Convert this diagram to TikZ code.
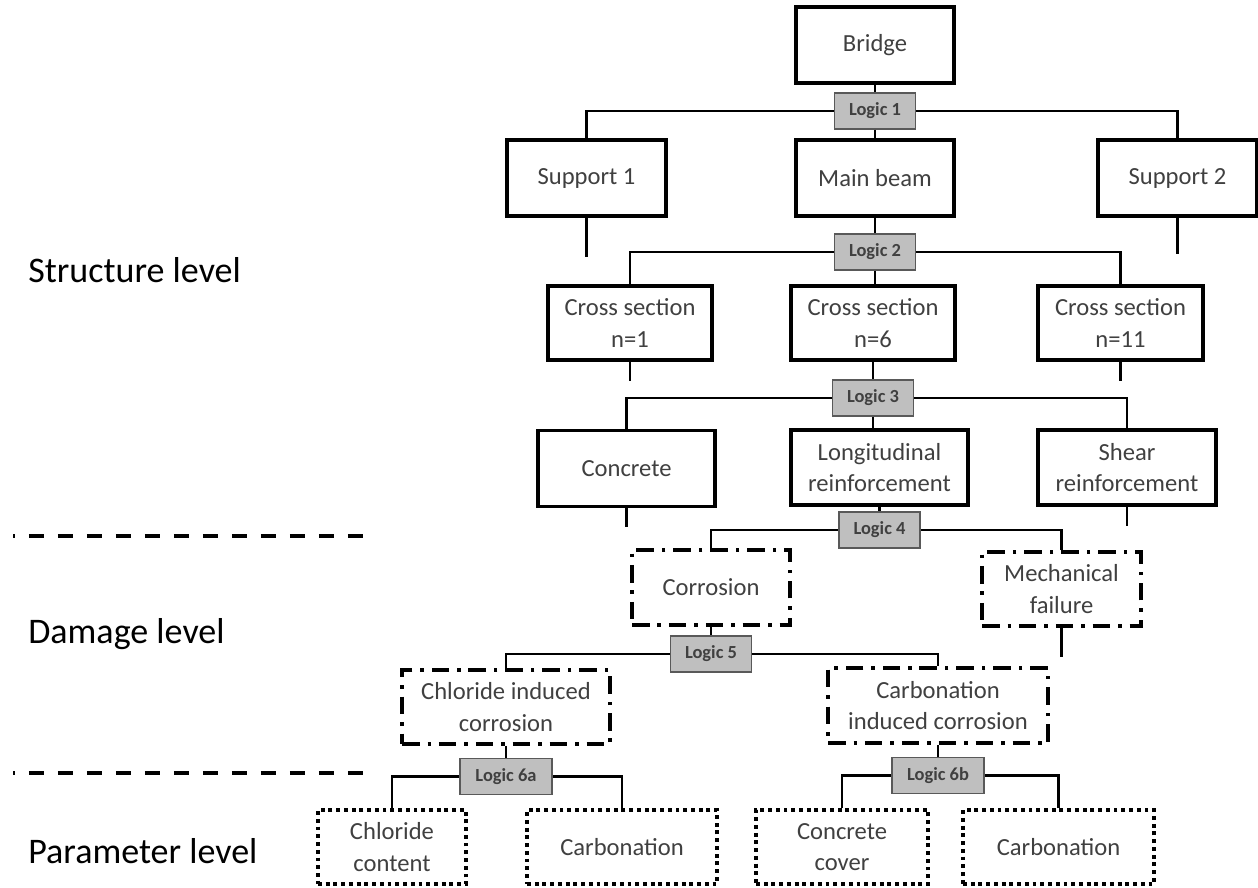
\documentclass[tikz,border=0pt]{standalone}
\usepackage{fontspec}
\setmainfont{Carlito}
\usepackage{tikz}
\definecolor{boxtext}{HTML}{404040}
\definecolor{logicgray}{HTML}{BFBFBF}

\begin{document}
\begin{tikzpicture}[x=0.02cm, y=-0.02cm, line width=1.5pt,
    wh/.style 2 args={minimum width=#1*0.2mm, minimum height=#2*0.2mm},
    box/.style={rectangle, draw, line width=2.1pt, fill=white, text=boxtext, align=center, inner sep=0pt, font=\fontsize{14}{18}\selectfont},
    dmgbox/.style={box, dash pattern=on 10pt off 4.5pt on 2pt off 4.5pt},
    parbox/.style={box, dash pattern=on 2.2pt off 2.2pt},
    logic/.style={rectangle, draw=black!65, line width=0.6pt, fill=logicgray, text=boxtext, inner sep=0pt, minimum width=16.2mm, minimum height=7.2mm, font=\fontsize{10.5}{12}\selectfont\bfseries},
    level/.style={anchor=west, inner sep=0pt, font=\fontsize{20.5}{24}\selectfont},
    sep/.style={line width=2.2pt, dash pattern=on 8.5pt off 8pt, dash phase=7.4pt}]

    \useasboundingbox (0,0) rectangle (1258,887);

    % structure level
    \node[box, wh={158}{76}] (bridge) at (875,45) {Bridge};
    \node[logic] (logic1) at (875,111) {Logic 1};
    \node[box, wh={159}{76}] (support1) at (586.5,178) {Support 1};
    \node[box, wh={158}{76}] (mainbeam) at (875,178) {Main beam};
    \node[box, wh={159}{76}] (support2) at (1177.5,178) {Support 2};
    \node[logic] (logic2) at (875,252) {Logic 2};
    \node[box, wh={164}{74}] (cs1) at (630,323) {Cross section\\n=1};
    \node[box, wh={164}{74}] (cs6) at (873,323) {Cross section\\n=6};
    \node[box, wh={165}{74}] (cs11) at (1120.5,323) {Cross section\\n=11};
    \node[logic] (logic3) at (873,398) {Logic 3};
    \node[box, wh={177}{76}] (concrete) at (626.5,468.5) {Concrete};
    \node[box, wh={177}{75}] (longreinf) at (879.5,467.5) {Longitudinal\\reinforcement};
    \node[box, wh={178}{75}] (shearreinf) at (1127,467.5) {Shear\\reinforcement};

    % damage level
    \node[logic] (logic4) at (879.5,530) {Logic 4};
    \node[dmgbox, wh={158}{75}] (corrosion) at (711,587.5) {Corrosion};
    \node[dmgbox, wh={159}{74}] (mechfail) at (1061.5,589) {Mechanical\\failure};
    \node[logic] (logic5) at (711,654) {Logic 5};
    \node[dmgbox, wh={208}{74}] (chlcorr) at (506,707) {Chloride induced\\corrosion};
    \node[dmgbox, wh={220}{75}] (carbcorr) at (938,705.5) {Carbonation\\induced corrosion};

    % parameter level
    \node[logic, minimum width=18.4mm] (logic6a) at (506,776.5) {Logic 6a};
    \node[logic, minimum width=18.4mm] (logic6b) at (938,775.5) {Logic 6b};
    \node[parbox, wh={148}{74}] (chlcont) at (392,847) {Chloride\\content};
    \node[parbox, wh={190}{74}] (carb1) at (622,847) {Carbonation};
    \node[parbox, wh={172}{74}] (cover) at (842,847) {Concrete\\cover};
    \node[parbox, wh={191}{74}] (carb2) at (1058.5,847) {Carbonation};

    % connectors
    \draw (bridge) -- (logic1) -- (mainbeam);
    \draw (support1.north) |- (logic1.west);
    \draw (support2.north) |- (logic1.east);
    \draw (support1.south) -- ++(0,39);
    \draw (support2.south) -- ++(0,36);
    \draw (mainbeam.south) -- (mainbeam.south |- logic2.north);
    \draw (logic2.south) -- (logic2.south |- cs6.north);
    \draw (cs1.north) |- (logic2.west);
    \draw (cs11.north) |- (logic2.east);
    \draw (cs1.south) -- ++(0,19);
    \draw (cs11.south) -- ++(0,19);
    \draw (cs6) -- (logic3) -- (longreinf.north -| logic3);
    \draw (concrete.north) |- (logic3.west);
    \draw (shearreinf.north) |- (logic3.east);
    \draw (concrete.south) -- ++(0,19);
    \draw (shearreinf.south) -- ++(0,19);
    \draw (longreinf) -- (logic4);
    \draw (corrosion.north) |- (logic4.west);
    \draw (mechfail.north) |- (logic4.east);
    \draw (mechfail.south) -- ++(0,29);
    \draw (corrosion) -- (logic5);
    \draw (chlcorr.north) |- (logic5.west);
    \draw (carbcorr.north) |- (logic5.east);
    \draw (chlcorr) -- (logic6a);
    \draw (chlcont.north) |- (logic6a.west);
    \draw (carb1.north) |- (logic6a.east);
    \draw (carbcorr) -- (logic6b);
    \draw (cover.north) |- (logic6b.west);
    \draw (carb2.north) |- (logic6b.east);

    % levels
    \node[level] (structure) at (27,270) {Structure level};
    \node[level] (damage) at (27,634) {Damage level};
    \node[level] (parameter) at (27,851) {Parameter level};
    \draw[sep] (13,536) -- (365,536);
    \draw[sep] (13,773) -- (365,773);

\end{tikzpicture}
\end{document}
